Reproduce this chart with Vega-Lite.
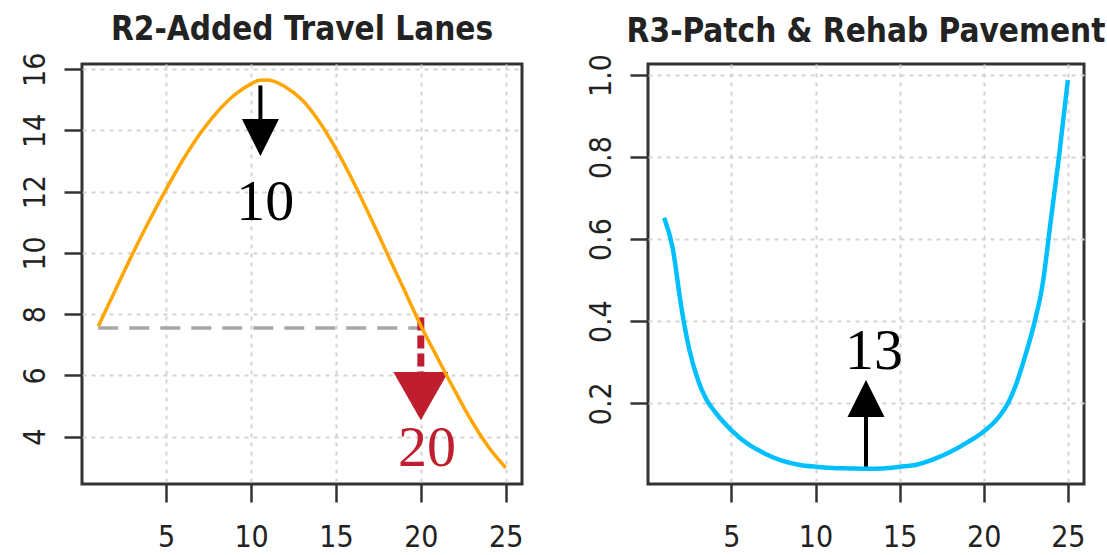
{
  "$schema": "https://vega.github.io/schema/vega-lite/v6.json",
  "background": "white",
  "padding": {"left": 18, "top": 12, "right": 0, "bottom": 0},
  "datasets": {
    "r2": [
      {"x": 1, "y": 7.6}, {"x": 2, "y": 8.78}, {"x": 3, "y": 9.95}, {"x": 4, "y": 11.05}, {"x": 5, "y": 12.08},
      {"x": 6, "y": 13.05}, {"x": 7, "y": 13.9}, {"x": 8, "y": 14.6}, {"x": 9, "y": 15.15}, {"x": 10, "y": 15.52},
      {"x": 10.5, "y": 15.64}, {"x": 11, "y": 15.65}, {"x": 12, "y": 15.43}, {"x": 13, "y": 15.0}, {"x": 14, "y": 14.3},
      {"x": 15, "y": 13.4}, {"x": 16, "y": 12.35}, {"x": 17, "y": 11.2}, {"x": 18, "y": 10.0}, {"x": 19, "y": 8.82},
      {"x": 20, "y": 7.62}, {"x": 21, "y": 6.55}, {"x": 22, "y": 5.5}, {"x": 23, "y": 4.5}, {"x": 24, "y": 3.65}, {"x": 25, "y": 2.98}
    ],
    "r3": [
      {"x": 1, "y": 0.652}, {"x": 1.5, "y": 0.58}, {"x": 2, "y": 0.44}, {"x": 2.5, "y": 0.33}, {"x": 3, "y": 0.258},
      {"x": 3.5, "y": 0.21}, {"x": 4, "y": 0.18}, {"x": 5, "y": 0.134}, {"x": 6, "y": 0.1}, {"x": 7, "y": 0.077},
      {"x": 8, "y": 0.06}, {"x": 9, "y": 0.05}, {"x": 10, "y": 0.045}, {"x": 11, "y": 0.042}, {"x": 12, "y": 0.041},
      {"x": 13, "y": 0.04}, {"x": 14, "y": 0.041}, {"x": 15, "y": 0.045}, {"x": 16, "y": 0.05}, {"x": 17, "y": 0.063},
      {"x": 18, "y": 0.081}, {"x": 19, "y": 0.104}, {"x": 20, "y": 0.131}, {"x": 21, "y": 0.172}, {"x": 21.5, "y": 0.205},
      {"x": 22, "y": 0.255}, {"x": 22.5, "y": 0.32}, {"x": 23, "y": 0.394}, {"x": 23.5, "y": 0.49}, {"x": 24, "y": 0.65},
      {"x": 24.5, "y": 0.81}, {"x": 25, "y": 0.988}
    ]
  },
  "hconcat": [
    {
      "width": 440,
      "height": 420,
      "title": "R2-Added Travel Lanes",
      "layer": [
        {
          "data": {"values": [{"x": 1, "x2": 20, "y": 7.55}]},
          "mark": {"type": "rule", "color": "#A6A6A6", "strokeWidth": 3.5, "strokeDash": [20, 11]},
          "encoding": {
            "x": {"field": "x", "type": "quantitative", "scale": {"domain": [0.04, 25.96], "nice": false, "zero": false},
                  "axis": {"values": [5, 10, 15, 20, 25]}},
            "x2": {"field": "x2"},
            "y": {"field": "y", "type": "quantitative", "scale": {"domain": [2.45, 16.17], "nice": false, "zero": false},
                  "axis": {"values": [4, 6, 8, 10, 12, 14, 16]}}
          }
        },
        {
          "data": {"values": [{"x": 20, "y": 7.89, "y2": 6.1}]},
          "mark": {"type": "rule", "color": "#BE1E2D", "strokeWidth": 7, "strokeDash": [13, 5]},
          "encoding": {
            "x": {"field": "x", "type": "quantitative"},
            "y": {"field": "y", "type": "quantitative"},
            "y2": {"field": "y2"}
          }
        },
        {
          "data": {"values": [{"x": 10.55, "y": 15.47, "y2": 14.3}]},
          "mark": {"type": "rule", "color": "#000000", "strokeWidth": 4},
          "encoding": {
            "x": {"field": "x", "type": "quantitative"},
            "y": {"field": "y", "type": "quantitative"},
            "y2": {"field": "y2"}
          }
        },
        {
          "data": {"values": [{"x": 10.55, "y": 13.77}]},
          "mark": {"type": "point", "shape": "M-1,-1L1,-1L0,1Z", "filled": true, "color": "#000000", "opacity": 1, "size": 1369, "strokeWidth": 0},
          "encoding": {
            "x": {"field": "x", "type": "quantitative"},
            "y": {"field": "y", "type": "quantitative"}
          }
        },
        {
          "data": {"values": [{"x": 20, "y": 5.32}]},
          "mark": {"type": "point", "shape": "M-1,-0.88L1,-0.88L0,0.88Z", "filled": true, "color": "#BE1E2D", "opacity": 1, "size": 3025, "strokeWidth": 0},
          "encoding": {
            "x": {"field": "x", "type": "quantitative"},
            "y": {"field": "y", "type": "quantitative"}
          }
        },
        {
          "data": {"name": "r2"},
          "mark": {"type": "line", "color": "#FFA500", "strokeWidth": 3.5, "interpolate": "monotone"},
          "encoding": {
            "x": {"field": "x", "type": "quantitative"},
            "y": {"field": "y", "type": "quantitative"}
          }
        },
        {
          "data": {"values": [{"x": 10.84, "y": 11.07, "label": "10"}]},
          "mark": {"type": "text", "font": "Liberation Serif", "fontSize": 58, "color": "#000000", "align": "center", "baseline": "alphabetic"},
          "encoding": {
            "x": {"field": "x", "type": "quantitative"},
            "y": {"field": "y", "type": "quantitative"},
            "text": {"field": "label"}
          }
        },
        {
          "data": {"values": [{"x": 20.37, "y": 3.05, "label": "20"}]},
          "mark": {"type": "text", "font": "Liberation Serif", "fontSize": 58, "color": "#BE1E2D", "align": "center", "baseline": "alphabetic"},
          "encoding": {
            "x": {"field": "x", "type": "quantitative"},
            "y": {"field": "y", "type": "quantitative"},
            "text": {"field": "label"}
          }
        }
      ]
    },
    {
      "width": 436,
      "height": 420,
      "title": "R3-Patch & Rehab Pavement",
      "layer": [
        {
          "data": {"values": [{"x": 13, "y": 0.043, "y2": 0.175}]},
          "mark": {"type": "rule", "color": "#000000", "strokeWidth": 4},
          "encoding": {
            "x": {"field": "x", "type": "quantitative", "scale": {"domain": [0.04, 25.96], "nice": false, "zero": false},
                  "axis": {"values": [5, 10, 15, 20, 25]}},
            "y": {"field": "y", "type": "quantitative", "scale": {"domain": [0.003, 1.027], "nice": false, "zero": false},
                  "axis": {"values": [0.2, 0.4, 0.6, 0.8, 1.0], "format": ".1f"}},
            "y2": {"field": "y2"}
          }
        },
        {
          "data": {"values": [{"x": 13, "y": 0.2115}]},
          "mark": {"type": "point", "shape": "M-1,1L1,1L0,-1Z", "filled": true, "color": "#000000", "opacity": 1, "size": 1369, "strokeWidth": 0},
          "encoding": {
            "x": {"field": "x", "type": "quantitative"},
            "y": {"field": "y", "type": "quantitative"}
          }
        },
        {
          "data": {"name": "r3"},
          "mark": {"type": "line", "color": "#00BFFF", "strokeWidth": 4.5, "interpolate": "monotone"},
          "encoding": {
            "x": {"field": "x", "type": "quantitative"},
            "y": {"field": "y", "type": "quantitative"}
          }
        },
        {
          "data": {"values": [{"x": 13.47, "y": 0.284, "label": "13"}]},
          "mark": {"type": "text", "font": "Liberation Serif", "fontSize": 58, "color": "#000000", "align": "center", "baseline": "alphabetic"},
          "encoding": {
            "x": {"field": "x", "type": "quantitative"},
            "y": {"field": "y", "type": "quantitative"},
            "text": {"field": "label"}
          }
        }
      ]
    }
  ],
  "spacing": 126,
  "bounds": "flush",
  "config": {
    "view": {"stroke": "#333333", "strokeWidth": 3},
    "axis": {
      "domain": false,
      "grid": true,
      "gridColor": "#D3D3D3",
      "gridDash": [4, 5],
      "gridWidth": 2,
      "ticks": true,
      "tickColor": "#333333",
      "tickWidth": 2.5,
      "tickSize": 18,
      "labelFont": "Liberation Sans Narrow, DejaVu Sans Condensed, Roboto, sans-serif",
      "labelFontSize": 30,
      "labelColor": "#222222",
      "labelPadding": 20,
      "labelOverlap": false,
      "labelFlush": false,
      "title": null
    },
    "axisY": {"labelAngle": -90, "labelAlign": "center", "labelBaseline": "alphabetic"},
    "title": {"font": "Liberation Sans Narrow, DejaVu Sans Condensed, Roboto, sans-serif", "fontSize": 33, "fontWeight": "bold", "color": "#222222", "baseline": "alphabetic", "offset": 5, "frame": "group", "anchor": "middle"}
  }
}
